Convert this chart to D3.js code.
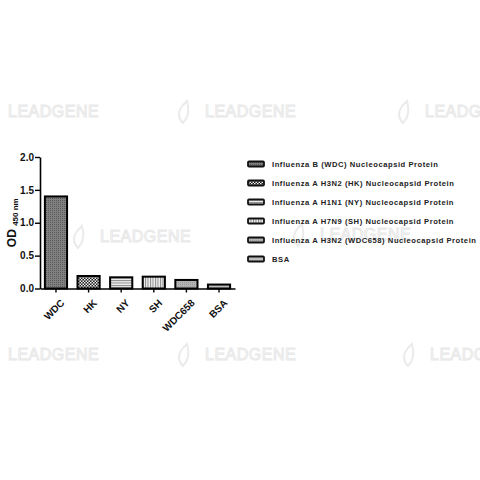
<!DOCTYPE html>
<html>
<head>
<meta charset="utf-8">
<script src="https://cdn.jsdelivr.net/npm/d3@7"></script>
<style>
  body { margin: 0; background: #fff; }
  text { font-family: "Liberation Sans", Arial, sans-serif; }
</style>
</head>
<body>
<div id="wrapper"></div>
<script>
/*global d3*/

// data
const samples = ["WDC", "HK", "NY", "SH", "WDC658", "BSA"]
const odValues = [1.40, 0.19, 0.17, 0.18, 0.13, 0.06]
const legendLabels = [
    "Influenza B (WDC) Nucleocapsid Protein",
    "Influenza A H3N2 (HK) Nucleocapsid Protein",
    "Influenza A H1N1 (NY) Nucleocapsid Protein",
    "Influenza A H7N9 (SH) Nucleocapsid Protein",
    "Influenza A H3N2 (WDC658) Nucleocapsid Protein",
    "BSA",
]
const yTicks = [0, 0.5, 1.0, 1.5, 2.0]
const patternIds = ["pWDC", "pHK", "pNY", "pSH", "pWDC658", "pBSA"]

function drawChart() {

    const dims = {
        width: 480,
        height: 480,
        left: 40,
        right: 235,
        top: 157,
        bottom: 288.5,
    }

    const svg = d3.select("#wrapper")
        .append("svg")
        .attr("width", dims.width)
        .attr("height", dims.height)

    // patterns
    const defs = svg.append("defs")

    const pWDC = defs.append("pattern").attr("id", "pWDC")
        .attr("patternUnits", "userSpaceOnUse").attr("width", 2).attr("height", 2)
    pWDC.append("rect").attr("width", 2).attr("height", 2).attr("fill", "#808080")
    pWDC.append("rect").attr("width", 1).attr("height", 1).attr("fill", "#5a5a5a")

    const pHK = defs.append("pattern").attr("id", "pHK")
        .attr("patternUnits", "userSpaceOnUse").attr("width", 3).attr("height", 3)
    pHK.append("rect").attr("width", 3).attr("height", 3).attr("fill", "#1a1a1a")
    pHK.append("rect").attr("width", 1.5).attr("height", 1.5).attr("fill", "#f2f2f2")
    pHK.append("rect").attr("x", 1.5).attr("y", 1.5).attr("width", 1.5).attr("height", 1.5).attr("fill", "#f2f2f2")

    const pNY = defs.append("pattern").attr("id", "pNY")
        .attr("patternUnits", "userSpaceOnUse").attr("width", 2.5).attr("height", 2.5)
    pNY.append("rect").attr("width", 2.5).attr("height", 2.5).attr("fill", "#eeeeee")
    pNY.append("rect").attr("width", 2.5).attr("height", 1).attr("fill", "#8a8a8a")

    const pSH = defs.append("pattern").attr("id", "pSH")
        .attr("patternUnits", "userSpaceOnUse").attr("width", 2.5).attr("height", 2.5)
    pSH.append("rect").attr("width", 2.5).attr("height", 2.5).attr("fill", "#eeeeee")
    pSH.append("rect").attr("width", 1).attr("height", 2.5).attr("fill", "#8a8a8a")

    const pW658 = defs.append("pattern").attr("id", "pWDC658")
        .attr("patternUnits", "userSpaceOnUse").attr("width", 2).attr("height", 2)
    pW658.append("rect").attr("width", 2).attr("height", 2).attr("fill", "#b4b4b4")
    pW658.append("rect").attr("width", 1).attr("height", 1).attr("fill", "#9a9a9a")

    const pBSA = defs.append("pattern").attr("id", "pBSA")
        .attr("patternUnits", "userSpaceOnUse").attr("width", 2).attr("height", 2)
    pBSA.append("rect").attr("width", 2).attr("height", 2).attr("fill", "#bdbdbd")

    // faint watermarks
    const marks = [
        [8, 117], [205, 117], [425, 117],
        [100, 242], [320, 240],
        [8, 360], [205, 360], [430, 360],
    ]
    const wm = svg.append("g")
    marks.forEach(([x, y]) => {
        wm.append("path")
            .attr("d", `M${x - 22},${y - 12} q-8,10 0,18 q8,-8 4,-22 z`)
            .attr("fill", "none")
            .attr("stroke", "#ebebeb")
            .attr("stroke-width", 2)
        wm.append("text")
            .attr("x", x)
            .attr("y", y)
            .attr("font-size", 16)
            .attr("letter-spacing", 0.5)
            .attr("fill", "#fff")
            .attr("stroke", "#e8e8e8")
            .attr("stroke-width", 1)
            .text("LEADGENE")
    })

    // scales
    const xScale = d3.scaleBand()
        .domain(samples)
        .range([dims.left, dims.right])
        .paddingInner(0.32)
        .paddingOuter(0.15)

    const yScale = d3.scaleLinear()
        .domain([0, 2])
        .range([dims.bottom, dims.top])

    // bars
    svg.append("g")
        .selectAll("rect")
        .data(samples)
        .join("rect")
        .attr("x", d => xScale(d))
        .attr("y", (d, i) => yScale(odValues[i]))
        .attr("width", xScale.bandwidth())
        .attr("height", (d, i) => yScale(0) - yScale(odValues[i]))
        .attr("fill", (d, i) => `url(#${patternIds[i]})`)
        .attr("stroke", "#000")
        .attr("stroke-width", 2)

    // axes
    const yAxis = svg.append("g")
        .attr("transform", `translate(${dims.left},0)`)
        .call(d3.axisLeft(yScale).tickValues(yTicks).tickFormat(d3.format(".1f")).tickSize(5).tickSizeOuter(0))
    yAxis.select(".domain").attr("stroke-width", 1.6)
    yAxis.selectAll(".tick line").attr("stroke-width", 1.4)
    yAxis.selectAll(".tick text")
        .attr("x", -6)
        .attr("font-size", 10)
        .attr("font-weight", "bold")
        .attr("font-family", "Liberation Sans, Arial, sans-serif")
        .attr("fill", "#111")

    const xAxis = svg.append("g")
        .attr("transform", `translate(0,${dims.bottom})`)
        .call(d3.axisBottom(xScale).tickSize(4).tickSizeOuter(0))
    xAxis.select(".domain").attr("stroke-width", 1.6)
    xAxis.selectAll(".tick line").attr("stroke-width", 1.4)
    xAxis.selectAll(".tick text")
        .attr("font-size", 10)
        .attr("font-weight", "bold")
        .attr("font-family", "Liberation Sans, Arial, sans-serif")
        .attr("fill", "#111")
        .attr("text-anchor", "end")
        .attr("dy", "0.3em")
        .attr("transform", "translate(2,8) rotate(-45)")

    // y label
    const yLabel = svg.append("text")
        .attr("transform", `translate(16,${(dims.top + dims.bottom) / 2}) rotate(-90)`)
        .attr("text-anchor", "middle")
        .attr("font-weight", "bold")
        .attr("fill", "#111")
    yLabel.append("tspan").attr("font-size", 12).text("OD ")
    yLabel.append("tspan").attr("font-size", 8).attr("dy", 2).text("450 nm")

    // legend
    const legend = svg.append("g")
        .selectAll("g")
        .data(legendLabels)
        .join("g")
        .attr("transform", (d, i) => `translate(248,${164 + i * 19})`)

    legend.append("rect")
        .attr("x", 0)
        .attr("y", -2.5)
        .attr("width", 16)
        .attr("height", 5)
        .attr("rx", 1)
        .attr("fill", (d, i) => `url(#${patternIds[i]})`)
        .attr("stroke", "#111")
        .attr("stroke-width", 1.8)

    legend.append("text")
        .attr("x", 24)
        .attr("dy", "0.35em")
        .attr("font-size", 7.6)
        .attr("font-weight", "bold")
        .attr("letter-spacing", 0.55)
        .attr("fill", "#222")
        .text(d => d)
}

drawChart()
</script>
</body>
</html>
